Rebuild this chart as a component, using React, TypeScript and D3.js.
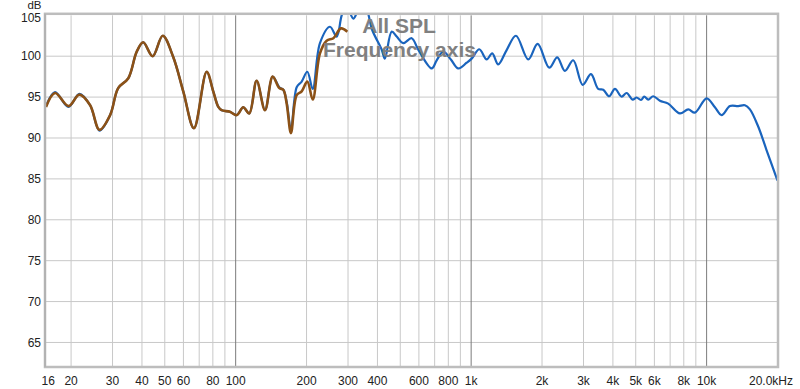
import React from "react";
import * as d3 from "d3";

const freqBrown = [15.65, 17.1, 19.5, 21.7, 24.1, 26.4, 29.3, 31.7, 35.0, 38.0, 40.5, 44.4, 49.0, 54.3, 59.9, 66.5, 75.3, 80.3, 84.4, 87.2, 94.5, 101, 107.7, 114.2, 122.8, 133.2, 143.6, 153.2, 159.3, 164.7, 171.7, 181.6, 190.7, 201.5, 212.4, 228, 243.5, 260, 280, 298];
const splBrown = [93.8, 95.5, 93.9, 95.3, 94.0, 91.0, 92.8, 96.1, 97.3, 100.55, 101.7, 100.0, 102.5, 99.9, 95.7, 91.2, 98.1, 95.7, 93.8, 93.4, 93.2, 92.8, 93.75, 93.0, 97.0, 93.4, 97.5, 96.1, 95.9, 94.2, 90.6, 95.25, 95.7, 96.9, 94.7, 100.35, 101.9, 102.2, 103.4, 103.0];

const freqBlue = [15.65, 17.1, 19.5, 21.7, 24.1, 26.4, 29.3, 31.7, 35.0, 38.0, 40.5, 44.4, 49.0, 54.3, 59.9, 66.5, 75.3, 80.3, 84.4, 87.2, 94.5, 101, 107.7, 114.2, 122.8, 133.2, 143.6, 153.2, 159.3, 164.7, 171.7, 181.6, 190.7, 201.5, 212.4, 228, 251.5, 268.6, 282, 295, 316, 332, 355, 380, 417, 430, 460, 483, 515, 559, 596, 680, 714, 761, 820, 882, 957, 1005, 1083, 1164, 1229, 1303, 1415, 1550, 1748, 1916, 2147, 2321, 2502, 2713, 2975, 3227, 3465, 3639, 3859, 4080, 4357, 4575, 4850, 5044, 5261, 5434, 5650, 5934, 6335, 6870, 7702, 8357, 8919, 10000, 10847, 11581, 12564, 13625, 14544, 15273, 16560, 17980, 20000];
const splBlue = [93.9, 95.6, 93.8, 95.4, 94.0, 90.9, 92.8, 96.1, 97.3, 100.55, 101.7, 100.0, 102.5, 99.9, 95.7, 91.2, 98.1, 95.7, 93.8, 93.4, 93.2, 92.8, 93.75, 93.0, 97.0, 93.4, 97.5, 96.2, 95.9, 94.4, 91.0, 96.2, 96.9, 98.1, 96.0, 101.6, 103.6, 102.4, 105.0, 106.2, 104.6, 105.6, 106.0, 103.2, 100.8, 99.7, 103.0, 102.4, 101.6, 102.2, 100.8, 98.5, 99.5, 100.55, 99.6, 98.5, 99.2, 99.7, 100.85, 99.6, 100.35, 99.0, 100.75, 102.5, 99.6, 101.5, 98.6, 99.85, 98.2, 99.5, 96.5, 97.8, 96.0, 95.9, 95.1, 96.0, 95.05, 95.5, 94.7, 94.95, 94.65, 95.05, 94.7, 95.1, 94.55, 94.2, 93.0, 93.5, 93.1, 94.85, 93.75, 92.8, 93.9, 93.9, 94.0, 93.5, 91.4, 88.5, 84.8];

const xTickValues = [16, 20, 30, 40, 50, 60, 80, 100, 200, 300, 400, 600, 800, 1000, 2000, 3000, 4000, 5000, 6000, 8000, 10000, 20000];
const xTickLabels = ["16", "20", "30", "40", "50", "60", "80", "100", "200", "300", "400", "600", "800", "1k", "2k", "3k", "4k", "5k", "6k", "8k", "10k", "20.0kHz"];
const minorGrid = [20, 30, 40, 50, 60, 70, 80, 90, 200, 300, 400, 500, 600, 700, 800, 900, 2000, 3000, 4000, 5000, 6000, 7000, 8000, 9000];
const majorGrid = [100, 1000, 10000];
const yTicks = [65, 70, 75, 80, 85, 90, 95, 100, 105];

const W = 800, H = 389;
const L = 46, R = 777.5, T = 15.3, B = 367;
const FONT = "'Liberation Sans', Arial, sans-serif";

export default function App() {
  const x = d3.scaleLog().domain([15.65, 20000]).range([L, R]);
  const y = d3.scaleLinear().domain([62, 105]).range([B, T]);
  const line = d3
    .line<[number, number]>()
    .x((d) => x(d[0]))
    .y((d) => y(d[1]))
    .curve(d3.curveCatmullRom.alpha(0.5));
  const blue = line(freqBlue.map((f, i) => [f, splBlue[i]] as [number, number])) || "";
  const brown = line(freqBrown.map((f, i) => [f, splBrown[i]] as [number, number])) || "";

  return (
    <svg width={W} height={H} style={{ position: "absolute", left: 0, top: 0, display: "block", background: "#fff" }} fontFamily={FONT}>
      <defs>
        <clipPath id="plotclip">
          <rect x={L} y={T - 0.5} width={R - L} height={B - T + 0.5} />
        </clipPath>
      </defs>
      <rect x={0} y={0} width={W} height={H} fill="#fff" />
      {yTicks.filter((v) => v < 105).map((v) => (
        <line key={"h" + v} x1={L} x2={R} y1={y(v)} y2={y(v)} stroke="#c8c8c8" strokeWidth={1} />
      ))}
      {minorGrid.map((f) => (
        <line key={"m" + f} x1={x(f)} x2={x(f)} y1={T} y2={B} stroke="#c8c8c8" strokeWidth={1} />
      ))}
      {majorGrid.map((f) => (
        <line key={"M" + f} x1={x(f)} x2={x(f)} y1={T} y2={B} stroke="#7c7c7c" strokeWidth={1} />
      ))}
      <g clipPath="url(#plotclip)">
        <path d={blue} fill="none" stroke="#1a64bd" strokeWidth={2.2} strokeLinejoin="round" />
        <path d={brown} fill="none" stroke="#8c5116" strokeWidth={2.6} strokeLinejoin="round" />
      </g>
      <rect x={L - 1} y={T - 1.5} width={R - L + 1.5} height={B - T + 1.5} fill="none" stroke="#bdbdbd" strokeWidth={2.5} />
      <line x1={L - 1} x2={L - 1} y1={T - 1.5} y2={B} stroke="#a8a8a8" strokeWidth={1} />
      {yTicks.map((v) => (
        <text key={"yt" + v} x={41} y={v === 105 ? 18 : y(v)} dy="0.35em" textAnchor="end" fontSize={12} fill="#222">
          {v}
        </text>
      ))}
      <text x={41.5} y={8.5} textAnchor="end" fontSize={11.5} fill="#222">dB</text>
      {xTickValues.map((f, i) => {
        const last = i === xTickValues.length - 1;
        return (
          <text key={"xt" + f} x={last ? x(f) + 15.5 : x(f)} y={385} textAnchor={last ? "end" : "middle"} fontSize={12} fill="#222">
            {xTickLabels[i]}
          </text>
        );
      })}
      <text x={399} y={33} textAnchor="middle" fontSize={21} fontWeight="bold" fill="#808080">All SPL</text>
      <text x={399.5} y={57} textAnchor="middle" fontSize={21} fontWeight="bold" fill="#808080">Frequency axis</text>
    </svg>
  );
}
